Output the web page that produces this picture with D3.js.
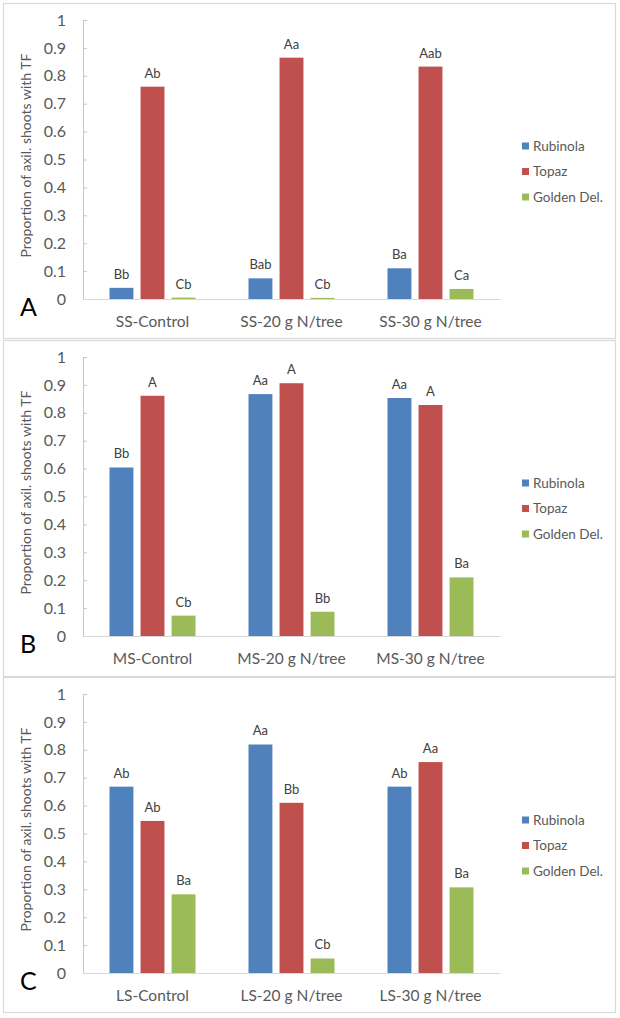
<!DOCTYPE html>
<html>
<head>
<meta charset="utf-8">
<script src="https://cdn.jsdelivr.net/npm/d3@7/dist/d3.min.js"></script>
<style>
  html, body { margin: 0; padding: 0; background: #fff; }
  svg { display: block; font-family: Lato, "Open Sans", sans-serif; }
</style>
</head>
<body>
<svg id="chart" width="620" height="1018"></svg>
<script>
// ---------- data ----------
const series = ["Rubinola", "Topaz", "Golden Del."];
const panelLetters = ["A", "B", "C"];
const yTickValues = [0, 0.1, 0.2, 0.3, 0.4, 0.5, 0.6, 0.7, 0.8, 0.9, 1];
const yTickLabels = ["0", "0.1", "0.2", "0.3", "0.4", "0.5", "0.6", "0.7", "0.8", "0.9", "1"];
const yTitle = "Proportion of axil. shoots with TF";

const categoriesA = ["SS-Control", "SS-20 g N/tree", "SS-30 g N/tree"];
const rubinolaA = [0.04, 0.074, 0.11];
const topazA = [0.761, 0.865, 0.833];
const goldenA = [0.005, 0.004, 0.036];
const lettersRubinolaA = ["Bb", "Bab", "Ba"];
const lettersTopazA = ["Ab", "Aa", "Aab"];
const lettersGoldenA = ["Cb", "Cb", "Ca"];

const categoriesB = ["MS-Control", "MS-20 g N/tree", "MS-30 g N/tree"];
const rubinolaB = [0.604, 0.867, 0.853];
const topazB = [0.861, 0.906, 0.828];
const goldenB = [0.073, 0.087, 0.21];
const lettersRubinolaB = ["Bb", "Aa", "Aa"];
const lettersTopazB = ["A", "A", "A"];
const lettersGoldenB = ["Cb", "Bb", "Ba"];

const categoriesC = ["LS-Control", "LS-20 g N/tree", "LS-30 g N/tree"];
const rubinolaC = [0.668, 0.819, 0.668];
const topazC = [0.545, 0.61, 0.756];
const goldenC = [0.282, 0.052, 0.307];
const lettersRubinolaC = ["Ab", "Aa", "Ab"];
const lettersTopazC = ["Ab", "Bb", "Aa"];
const lettersGoldenC = ["Ba", "Cb", "Ba"];

// ---------- styles ----------
const colors = ["#4f81bd", "#c0504d", "#9bbb59"];

const panels = [
  { cats: categoriesA, vals: [rubinolaA, topazA, goldenA], lets: [lettersRubinolaA, lettersTopazA, lettersGoldenA] },
  { cats: categoriesB, vals: [rubinolaB, topazB, goldenB], lets: [lettersRubinolaB, lettersTopazB, lettersGoldenB] },
  { cats: categoriesC, vals: [rubinolaC, topazC, goldenC], lets: [lettersRubinolaC, lettersTopazC, lettersGoldenC] }
];

const svg = d3.select("#chart");
const panelTops = [3, 340, 677];
const panelBottoms = [339, 677, 1013];
const plotLeft = 83, plotRight = 500;
const FONT = "Lato, 'Open Sans', sans-serif";

panels.forEach((p, i) => {
  const top = panelTops[i];
  const g = svg.append("g");

  g.append("rect")
    .attr("x", 3.5).attr("y", top + 0.5)
    .attr("width", 612).attr("height", panelBottoms[i] - top - 1)
    .attr("fill", "#fff").attr("stroke", "#d9d9d9").attr("stroke-width", 1.2);

  const y0 = top + 17, y1 = y0 + 279;
  const y = d3.scaleLinear().domain([0, 1]).range([y1, y0]);
  const x0 = d3.scaleBand().domain(p.cats).range([plotLeft, plotRight]).padding(0);
  const groupW = 86;
  const x1 = d3.scaleBand().domain(series).range([0, groupW]).paddingInner(0.23).paddingOuter(0);
  const off = (x0.bandwidth() - groupW) / 2;

  // y axis
  const yAxis = d3.axisLeft(y).tickValues(yTickValues)
    .tickFormat((d, k) => yTickLabels[k]).tickSizeInner(-4).tickSizeOuter(0).tickPadding(17);
  const ya = g.append("g").attr("transform", `translate(${plotLeft},0)`).call(yAxis);
  ya.select(".domain").attr("stroke", "#b9c9dc");
  ya.selectAll(".tick line").attr("stroke", "#b9c9dc");
  ya.selectAll(".tick text").attr("fill", "#595959").style("font-size", "16px")
    .style("font-family", FONT);

  // x axis
  const xAxis = d3.axisBottom(x0).tickSize(0).tickPadding(17);
  const xa = g.append("g").attr("transform", `translate(0,${y1})`).call(xAxis);
  xa.select(".domain").attr("stroke", "#d9d9d9");
  xa.selectAll(".tick text").attr("fill", "#595959").style("font-size", "15.5px")
    .style("font-family", FONT);

  // bars
  series.forEach((s, si) => {
    const gs = g.append("g");
    gs.selectAll("rect").data(p.cats).join("rect")
      .attr("x", c => x0(c) + off + x1(s))
      .attr("y", (c, k) => y(p.vals[si][k]))
      .attr("width", x1.bandwidth())
      .attr("height", (c, k) => y1 - y(p.vals[si][k]))
      .attr("fill", colors[si]);
    gs.selectAll("text").data(p.cats).join("text")
      .attr("x", c => x0(c) + off + x1(s) + x1.bandwidth() / 2)
      .attr("y", (c, k) => y(p.vals[si][k]) - 9)
      .attr("text-anchor", "middle")
      .attr("fill", "#404040").style("font-size", "13px")
      .text((c, k) => p.lets[si][k]);
  });

  // y title
  g.append("text")
    .attr("transform", `translate(31,${(y0 + y1) / 2 - 4}) rotate(-90)`)
    .attr("text-anchor", "middle")
    .attr("fill", "#595959").style("font-size", "14px")
    .text(yTitle);

  // panel letter
  g.append("text")
    .attr("x", 20).attr("y", y1 + 17)
    .attr("fill", "#000").style("font-size", "25px")
    .text(panelLetters[i]);

  // legend
  const lg = g.append("g").attr("transform", `translate(522,${y0 + 126})`);
  series.forEach((s, si) => {
    const row = lg.append("g").attr("transform", `translate(0,${si * 25.5})`);
    row.append("rect").attr("x", 0).attr("y", -3.5).attr("width", 7).attr("height", 7).attr("fill", colors[si]);
    row.append("text").attr("x", 11).attr("y", 0).attr("dy", "0.35em")
      .attr("fill", "#595959").style("font-size", "13.5px").text(s);
  });
});
</script>
</body>
</html>
